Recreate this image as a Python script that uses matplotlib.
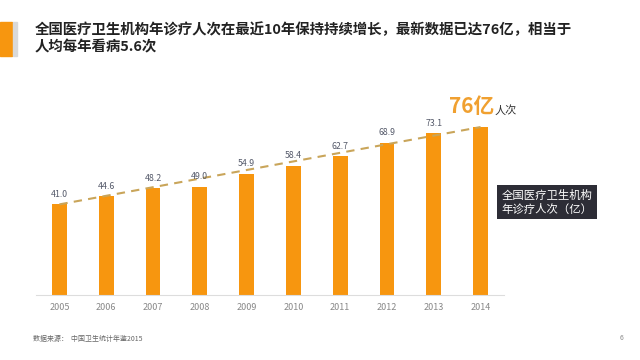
import numpy as np
import matplotlib
matplotlib.use('Agg')
import matplotlib.pyplot as plt
import matplotlib.patches as mpatches

plt.rcParams['font.family'] = ['Noto Sans CJK SC', 'DejaVu Sans']

years = ['2005', '2006', '2007', '2008', '2009', '2010', '2011', '2012', '2013', '2014']
visits = [41.0, 44.6, 48.2, 49.0, 54.9, 58.4, 62.7, 68.9, 73.1, 76.0]
bar_labels = ['41.0', '44.6', '48.2', '49.0', '54.9', '58.4', '62.7', '68.9', '73.1', '']

title_lines = ['全国医疗卫生机构年诊疗人次在最近10年保持持续增长，最新数据已达76亿，相当于',
               '人均每年看病5.6次']
legend_text = '全国医疗卫生机构\n年诊疗人次（亿）'
source_text = '数据来源：  中国卫生统计年鉴2015'

ORANGE = '#f7960f'

fig = plt.figure(figsize=(6.4, 3.6), dpi=100)
fig.patch.set_facecolor('white')

# title decoration
fig.patches.append(mpatches.Rectangle((0, 1 - 56 / 360), 12 / 640, 34 / 360,
                                      transform=fig.transFigure, color=ORANGE))
fig.patches.append(mpatches.Rectangle((13 / 640, 1 - 56 / 360), 4 / 640, 34 / 360,
                                      transform=fig.transFigure, color='#d9d9d9'))
fig.text(35 / 640, 1 - 30 / 360, title_lines[0], fontsize=10.4, fontweight='bold',
         color='#222222', va='center', ha='left')
fig.text(35 / 640, 1 - 47 / 360, title_lines[1], fontsize=10.4, fontweight='bold',
         color='#222222', va='center', ha='left')

ax = fig.add_axes([36 / 640, 65 / 360, 468 / 640, 221 / 360])
x = np.arange(len(years))
ax.bar(x, visits, width=0.32, color=ORANGE, zorder=2)

# dashed trend line from first to last bar
ax.plot([x[0], x[-1]], [visits[0], visits[-1]], ls=(0, (4, 3)), lw=1.5,
        color='#c9a55a', zorder=3)

for xi, v, lab in zip(x, visits, bar_labels):
    if lab:
        ax.text(xi, v + 2.5, lab, ha='center', va='bottom', fontsize=6.3,
                color='#555a6a', zorder=4)

ax.text(x[-1] + 0.3, visits[-1] + 9.5, '76亿', ha='right', va='center',
        fontsize=15, fontweight='bold', color='#f0a030')
ax.text(x[-1] + 0.3, visits[-1] + 7.5, '人次', ha='left', va='center',
        fontsize=8, color='#333333')

ax.set_xlim(-0.5, len(years) - 0.5)
ax.set_ylim(0, 100)
ax.set_yticks([])
ax.set_xticks(x)
ax.set_xticklabels(years, fontsize=6.5, color='#888888')
ax.tick_params(axis='x', length=0, pad=6)
for s in ['left', 'right', 'top']:
    ax.spines[s].set_visible(False)
ax.spines['bottom'].set_color('#dddddd')
ax.spines['bottom'].set_linewidth(0.8)

# legend box
fig.text(547 / 640, 1 - 202 / 360, legend_text, fontsize=8.2, color='white',
         ha='center', va='center', linespacing=1.3,
         bbox=dict(boxstyle='square,pad=0.4', fc='#2d2d36', ec='none'))

fig.text(33 / 640, 1 - 339 / 360, source_text, fontsize=5, color='#666666',
         ha='left', va='center')
fig.text(622 / 640, 1 - 338 / 360, '6', fontsize=5, color='#888888',
         ha='center', va='center')

fig.savefig('out.png', dpi=100)
